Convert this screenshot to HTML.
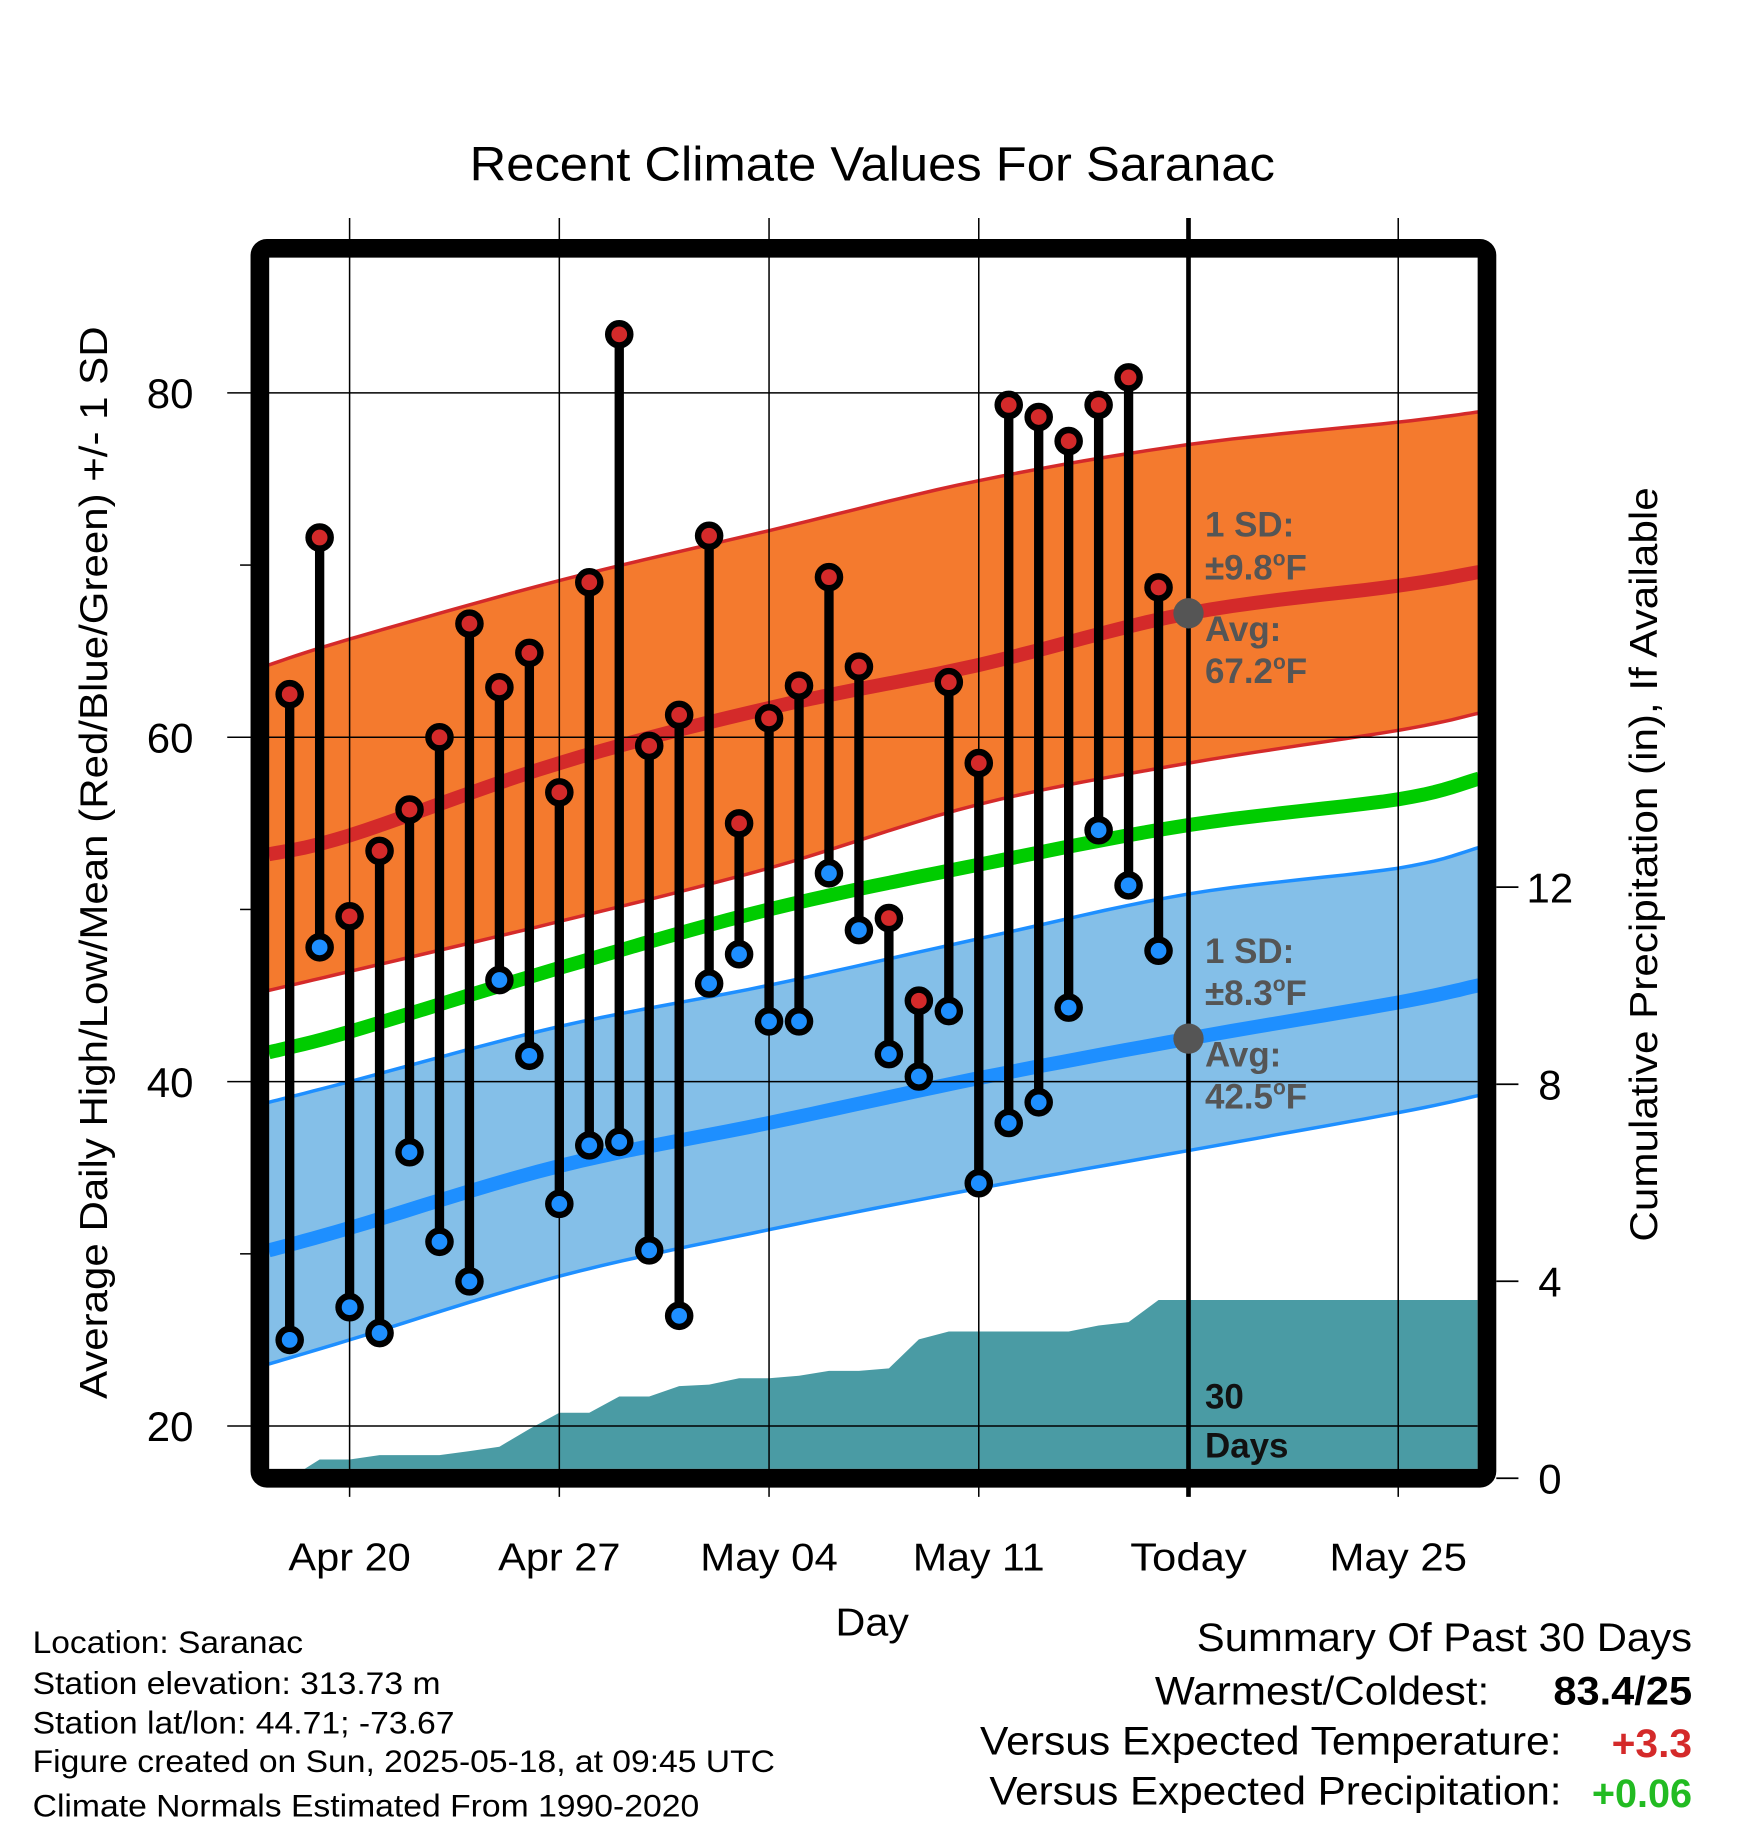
<!DOCTYPE html>
<html><head><meta charset="utf-8"><style>
html,body{margin:0;padding:0;background:#fff;}
svg{display:block;font-family:"Liberation Sans",sans-serif;}
</style></head><body>
<svg id="chart" width="1748" height="1828" viewBox="0 0 1500 1568" preserveAspectRatio="none" xmlns="http://www.w3.org/2000/svg">
<rect width="1500" height="1568" fill="#fff"/>
<g id="bands"></g><g id="grid"></g><g id="series"></g><g id="frame"></g><g id="labels"></g>
</svg>
<script>
// ---- data ----
const dayLabels = ["Apr 20","Apr 27","May 04","May 11","Today","May 25"];
const dayLabelIdx = [0,7,14,21,28,35];
const obsDays = [-2,-1,0,1,2,3,4,5,6,7,8,9,10,11,12,13,14,15,16,17,18,19,20,21,22,23,24,25,26,27];
const highs = [62.5,71.6,49.6,53.4,55.8,60.0,66.6,62.9,64.9,56.8,69.0,83.4,59.5,61.3,71.7,55.0,61.1,63.0,69.3,64.1,49.5,44.7,63.2,58.5,79.3,78.6,77.2,79.3,80.9,68.7];
const lows = [25.0,47.8,26.9,25.4,35.9,30.7,28.4,45.9,41.5,32.9,36.3,36.5,30.2,26.4,45.7,47.4,43.5,43.5,52.1,48.8,41.6,40.3,44.1,34.1,37.6,38.8,44.3,54.6,51.4,47.6];
const precip = [0,0.38,0.38,0.47,0.47,0.47,0.55,0.64,1.0,1.33,1.33,1.66,1.66,1.87,1.9,2.03,2.03,2.08,2.18,2.18,2.23,2.82,2.98,2.98,2.98,2.98,2.98,3.1,3.17,3.62];
const normDays = [-2.7,0,7,14,21,28,35,37.7];
const normHigh = [53.2,54.3,58.5,61.7,64.2,67.2,68.8,69.6];
const normHighUp = [64.2,65.7,69.1,72.0,74.9,77.0,78.3,78.9];
const normHighLo = [45.3,46.4,49.3,52.4,56.1,58.5,60.4,61.4];
const normMean = [41.7,42.9,46.6,50.0,52.6,54.9,56.4,57.6];
const normLow = [30.2,31.5,35.1,37.6,40.2,42.5,44.6,45.6];
const normLowUp = [38.8,40.0,43.2,45.6,48.3,50.9,52.4,53.6];
const normLowLo = [23.6,25.0,28.7,31.4,33.8,36.0,38.2,39.2];
const yTicks = [20,40,60,80];
const yMinor = [30,50,70];
const pTicks = [0,4,8,12];

// ---- axes ----
const X = d => 300 + d*25.71;
const Y = v => 337 + (80 - v)*14.77;
const P = p => 1268 - p*42.25;
const L = 231, R = 1268, T = 221, B = 1260;
const NS = "http://www.w3.org/2000/svg";
function mk(parent, tag, attrs, text){
  const e = document.createElementNS(NS, tag);
  for (const k in attrs) e.setAttribute(k, attrs[k]);
  if (text !== undefined) e.textContent = text;
  document.getElementById(parent).appendChild(e);
  return e;
}
// smooth (Catmull-Rom) sampling of normal curves
function smoothPts(arr){
  const out = [];
  const n = normDays.length;
  for (let i=0;i<n-1;i++){
    const p0 = [X(normDays[Math.max(i-1,0)]), Y(arr[Math.max(i-1,0)])];
    const p1 = [X(normDays[i]), Y(arr[i])];
    const p2 = [X(normDays[i+1]), Y(arr[i+1])];
    const p3 = [X(normDays[Math.min(i+2,n-1)]), Y(arr[Math.min(i+2,n-1)])];
    for (let s=0;s<10;s++){
      const t = s/10, t2=t*t, t3=t2*t;
      const f = k => 0.5*((2*p1[k]) + (-p0[k]+p2[k])*t + (2*p0[k]-5*p1[k]+4*p2[k]-p3[k])*t2 + (-p0[k]+3*p1[k]-3*p2[k]+p3[k])*t3);
      out.push(f(0).toFixed(1)+","+f(1).toFixed(1));
    }
  }
  out.push(X(normDays[n-1]).toFixed(1)+","+Y(arr[n-1]).toFixed(1));
  return out;
}
function line(arr){ return smoothPts(arr).join(" "); }
function band(up, lo){ return smoothPts(up).concat(smoothPts(lo).reverse()).join(" "); }
let e;
e = mk("bands","polygon",{points:band(normHighUp,normHighLo),fill:"#F47A2E"});
 
e = mk("bands","polyline",{points:line(normHighUp),fill:"none",stroke:"#D42A2A","stroke-width":3});
 
e = mk("bands","polyline",{points:line(normHighLo),fill:"none",stroke:"#D42A2A","stroke-width":3});
 
e = mk("bands","polygon",{points:band(normLowUp,normLowLo),fill:"#84BFE8"});
 
e = mk("bands","polyline",{points:line(normLowUp),fill:"none",stroke:"#1E8FFF","stroke-width":3});
 
e = mk("bands","polyline",{points:line(normLowLo),fill:"none",stroke:"#1E8FFF","stroke-width":3});
 
// precip area
let pts = [X(-1.5)+","+B];
obsDays.forEach((d,i)=>{ pts.push(X(d)+","+P(precip[i])); });
pts.push(R+","+P(precip[precip.length-1])); pts.push(R+","+B);
e = mk("bands","polygon",{points:pts.join(" "),fill:"#4A9BA4"});
 
// normal lines
e = mk("bands","polyline",{points:line(normHigh),fill:"none",stroke:"#D42A2A","stroke-width":12});
 
e = mk("bands","polyline",{points:line(normMean),fill:"none",stroke:"#00CC00","stroke-width":12});
 
e = mk("bands","polyline",{points:line(normLow),fill:"none",stroke:"#1E8FFF","stroke-width":12});
 
// grid
const dayLabelW = [105,105,118,113,100,118];
dayLabelIdx.forEach((d,i)=>{
  const x = X(d);
  e = mk("grid","line",{x1:x,y1:187,x2:x,y2:1284,stroke:"#000","stroke-width":d===28?4:1.3});
   
  e = mk("labels","text",{x:x,y:1347,"font-size":33,"text-anchor":"middle",textLength:dayLabelW[i],lengthAdjust:"spacingAndGlyphs"},dayLabels[i]);
   
});
yTicks.forEach(v=>{
  e = mk("grid","line",{x1:195,y1:Y(v),x2:R,y2:Y(v),stroke:"#000","stroke-width":1.3});
   
  e = mk("labels","text",{x:166,y:Y(v)+13,"font-size":36,"text-anchor":"end"},String(v));
   
});
yMinor.forEach(v=>{
  e = mk("grid","line",{x1:206,y1:Y(v),x2:216,y2:Y(v),stroke:"#000","stroke-width":1.3});
   
});
pTicks.forEach(p=>{
  e = mk("grid","line",{x1:1284,y1:P(p),x2:1303,y2:P(p),stroke:"#000","stroke-width":1.5});
   
  e = mk("labels","text",{x:1330,y:P(p)+13,"font-size":36,"text-anchor":"middle"},String(p));
   
});
// series
obsDays.forEach((d,i)=>{
  const x = X(d);
  e = mk("series","line",{x1:x,y1:Y(highs[i]),x2:x,y2:Y(lows[i]),stroke:"#000","stroke-width":8});
   
  e = mk("series","circle",{cx:x,cy:Y(highs[i]),r:9.5,fill:"#D42A2A",stroke:"#000","stroke-width":5.5});
   
  e = mk("series","circle",{cx:x,cy:Y(lows[i]),r:9.5,fill:"#1E8FFF",stroke:"#000","stroke-width":5.5});
   
});
e = mk("series","circle",{cx:X(28),cy:Y(normHigh[5]),r:13,fill:"#555"});
 
e = mk("series","circle",{cx:X(28),cy:Y(normLow[5]),r:13,fill:"#555"});
 
// frame
e = mk("frame","rect",{x:223,y:213,width:1053,height:1055,fill:"none",stroke:"#000","stroke-width":16,rx:6});
 
// annotations
function ann(txt,y,name,fill){
  e = mk("labels","text",{x:1034,y:y,"font-size":30,"font-weight":"bold",fill:fill||"#555"});
  e.innerHTML = txt;
   
}
ann("1 SD:",460,"high-sd-label");
ann("±9.8<tspan font-size='18' dy='-12'>o</tspan><tspan dy='12'>F</tspan>",497,"high-sd-value");
ann("Avg:",550,"high-avg-label");
ann("67.2<tspan font-size='18' dy='-12'>o</tspan><tspan dy='12'>F</tspan>",586,"high-avg-value");
ann("1 SD:",826,"low-sd-label");
ann("±8.3<tspan font-size='18' dy='-12'>o</tspan><tspan dy='12'>F</tspan>",862,"low-sd-value");
ann("Avg:",915,"low-avg-label");
ann("42.5<tspan font-size='18' dy='-12'>o</tspan><tspan dy='12'>F</tspan>",951,"low-avg-value");
ann("30",1208,"days-count-label","#111");
ann("Days",1250,"days-label","#111");
</script>
<svg width="1748" height="1828" viewBox="0 0 1500 1568" preserveAspectRatio="none" style="position:absolute;left:0;top:0;font-family:'Liberation Sans',sans-serif" xmlns="http://www.w3.org/2000/svg">
<text x="403" y="155" font-size="41" textLength="691" lengthAdjust="spacingAndGlyphs">Recent Climate Values For Saranac</text>
<text transform="translate(92,1200) rotate(-90)" font-size="33" textLength="920" lengthAdjust="spacingAndGlyphs">Average Daily High/Low/Mean (Red/Blue/Green) +/- 1 SD</text>
<text transform="translate(1422,1065) rotate(-90)" font-size="33" textLength="647" lengthAdjust="spacingAndGlyphs">Cumulative Precipitation (in), If Available</text>
<text x="717" y="1403" font-size="33" textLength="63" lengthAdjust="spacingAndGlyphs">Day</text>
<g font-size="27">
<text x="28" y="1418" textLength="232" lengthAdjust="spacingAndGlyphs">Location: Saranac</text>
<text x="28" y="1453" textLength="350" lengthAdjust="spacingAndGlyphs">Station elevation: 313.73 m</text>
<text x="28" y="1487" textLength="362" lengthAdjust="spacingAndGlyphs">Station lat/lon: 44.71; -73.67</text>
<text x="28" y="1520" textLength="637" lengthAdjust="spacingAndGlyphs">Figure created on Sun, 2025-05-18, at 09:45 UTC</text>
<text x="28" y="1558" textLength="572" lengthAdjust="spacingAndGlyphs">Climate Normals Estimated From 1990-2020</text>
</g>
<g font-size="34">
<text x="1027" y="1416" textLength="425" lengthAdjust="spacingAndGlyphs">Summary Of Past 30 Days</text>
<text x="991" y="1462" textLength="287" lengthAdjust="spacingAndGlyphs">Warmest/Coldest:</text>
<text x="1333" y="1462" font-weight="bold" textLength="119" lengthAdjust="spacingAndGlyphs">83.4/25</text>
<text x="841" y="1505" textLength="499" lengthAdjust="spacingAndGlyphs">Versus Expected Temperature:</text>
<text x="1383" y="1507" font-weight="bold" fill="#D42A2A" textLength="69" lengthAdjust="spacingAndGlyphs">+3.3</text>
<text x="849" y="1548" textLength="491" lengthAdjust="spacingAndGlyphs">Versus Expected Precipitation:</text>
<text x="1366" y="1550" font-weight="bold" fill="#22BB22" textLength="86" lengthAdjust="spacingAndGlyphs">+0.06</text>
</g>
</svg>
</body></html>
